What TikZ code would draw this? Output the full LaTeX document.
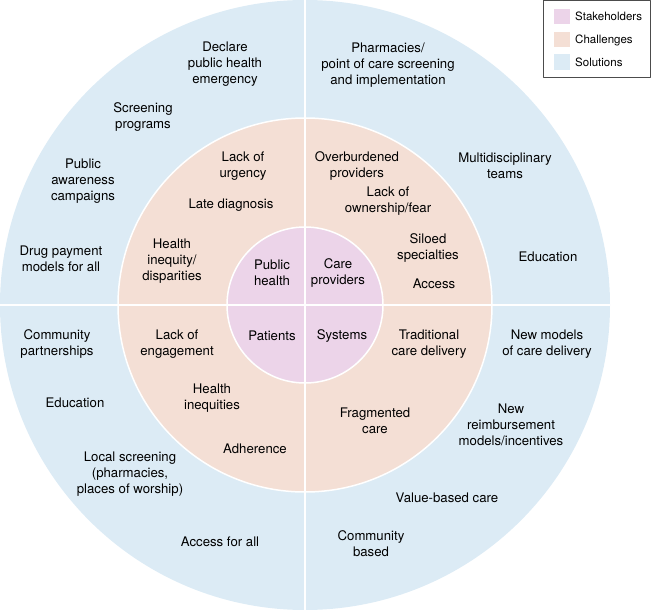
\documentclass[tikz,border=0pt]{standalone}
\usepackage{fontspec}
\setmainfont{TeX Gyre Heros}
\definecolor{solblue}{HTML}{DCEBF5}
\definecolor{chalpeach}{HTML}{F4DFD5}
\definecolor{stakepink}{HTML}{ECD4E9}
\begin{document}
\begin{tikzpicture}[line cap=round,line join=round,x=1pt,y=-1pt,
  lbl/.style={align=center,inner sep=0pt,font=\fontsize{13.2}{16}\selectfont},
  keytext/.style={anchor=west,inner sep=0pt,font=\fontsize{11.5}{13}\selectfont},
  ring/.style={draw=white,line width=1.5pt}]
\useasboundingbox (0,0) rectangle (651,610);
\coordinate (O) at (305,305);
% rings
\fill [solblue] (O) circle (305pt);
\draw [ring,fill=chalpeach] (O) circle (187pt);
\draw [ring,fill=stakepink] (O) circle (78pt);
\draw [ring] (0,305) -- (610,305);
\draw [ring] (305,0) -- (305,610);
% stakeholders
\node[lbl] (ph) at (272,273) {Public\\health};
\node[lbl] (cp) at (338,273) {Care\\providers};
\node[lbl] (pa) at (272,336) {Patients};
\node[lbl] (sy) at (342,336) {Systems};
% challenges
\node[lbl] (urg) at (243,166) {Lack of\\urgency};
\node[lbl] (late) at (231,205) {Late diagnosis};
\node[lbl] (ineq) at (172,261) {Health\\inequity/\\disparities};
\node[lbl] (over) at (357,166) {Overburdened\\providers};
\node[lbl] (own) at (388,201) {Lack of\\ownership/fear};
\node[lbl] (silo) at (428,248) {Siloed\\specialties};
\node[lbl] (acc) at (434,284) {Access};
\node[lbl] (eng) at (177,344) {Lack of\\engagement};
\node[lbl] (hin) at (212,398) {Health\\inequities};
\node[lbl] (adh) at (255,449) {Adherence};
\node[lbl] (trad) at (429,344) {Traditional\\care delivery};
\node[lbl] (frag) at (375,421) {Fragmented\\care};
% solutions
\node[lbl] (decl) at (225,64) {Declare\\public health\\emergency};
\node[lbl] (scr) at (143,117) {Screening\\programs};
\node[lbl] (aw) at (83,181) {Public\\awareness\\campaigns};
\node[lbl] (drug) at (61,259) {Drug payment\\models for all};
\node[lbl] (pharm) at (388,65) {Pharmacies/\\point of care screening\\and implementation};
\node[lbl] (multi) at (505,166) {Multidisciplinary\\teams};
\node[lbl] (edu1) at (548,257) {Education};
\node[lbl] (comm) at (57,344) {Community\\partnerships};
\node[lbl] (edu2) at (75,403) {Education};
\node[lbl] (loc) at (130,474) {Local screening\\(pharmacies,\\places of worship)};
\node[lbl] (all) at (220,542) {Access for all};
\node[lbl] (newm) at (547,344) {New models\\of care delivery};
\node[lbl] (reimb) at (511,425) {New\\reimbursement\\models/incentives};
\node[lbl] (val) at (447,498) {Value-based care};
\node[lbl] (cb) at (371,544) {Community\\based};
% legend
\draw [draw=black!70,line width=0.6pt,fill=white] (543,0.5) rectangle (650.5,77);
\fill [stakepink] (554,9) rectangle (570,24);
\fill [chalpeach] (554,32) rectangle (570,47);
\fill [solblue] (554,54) rectangle (570,70);
\node[keytext] (kst) at (575,16) {Stakeholders};
\node[keytext] (kch) at (575,40) {Challenges};
\node[keytext] (kso) at (575,62) {Solutions};
\end{tikzpicture}
\end{document}
